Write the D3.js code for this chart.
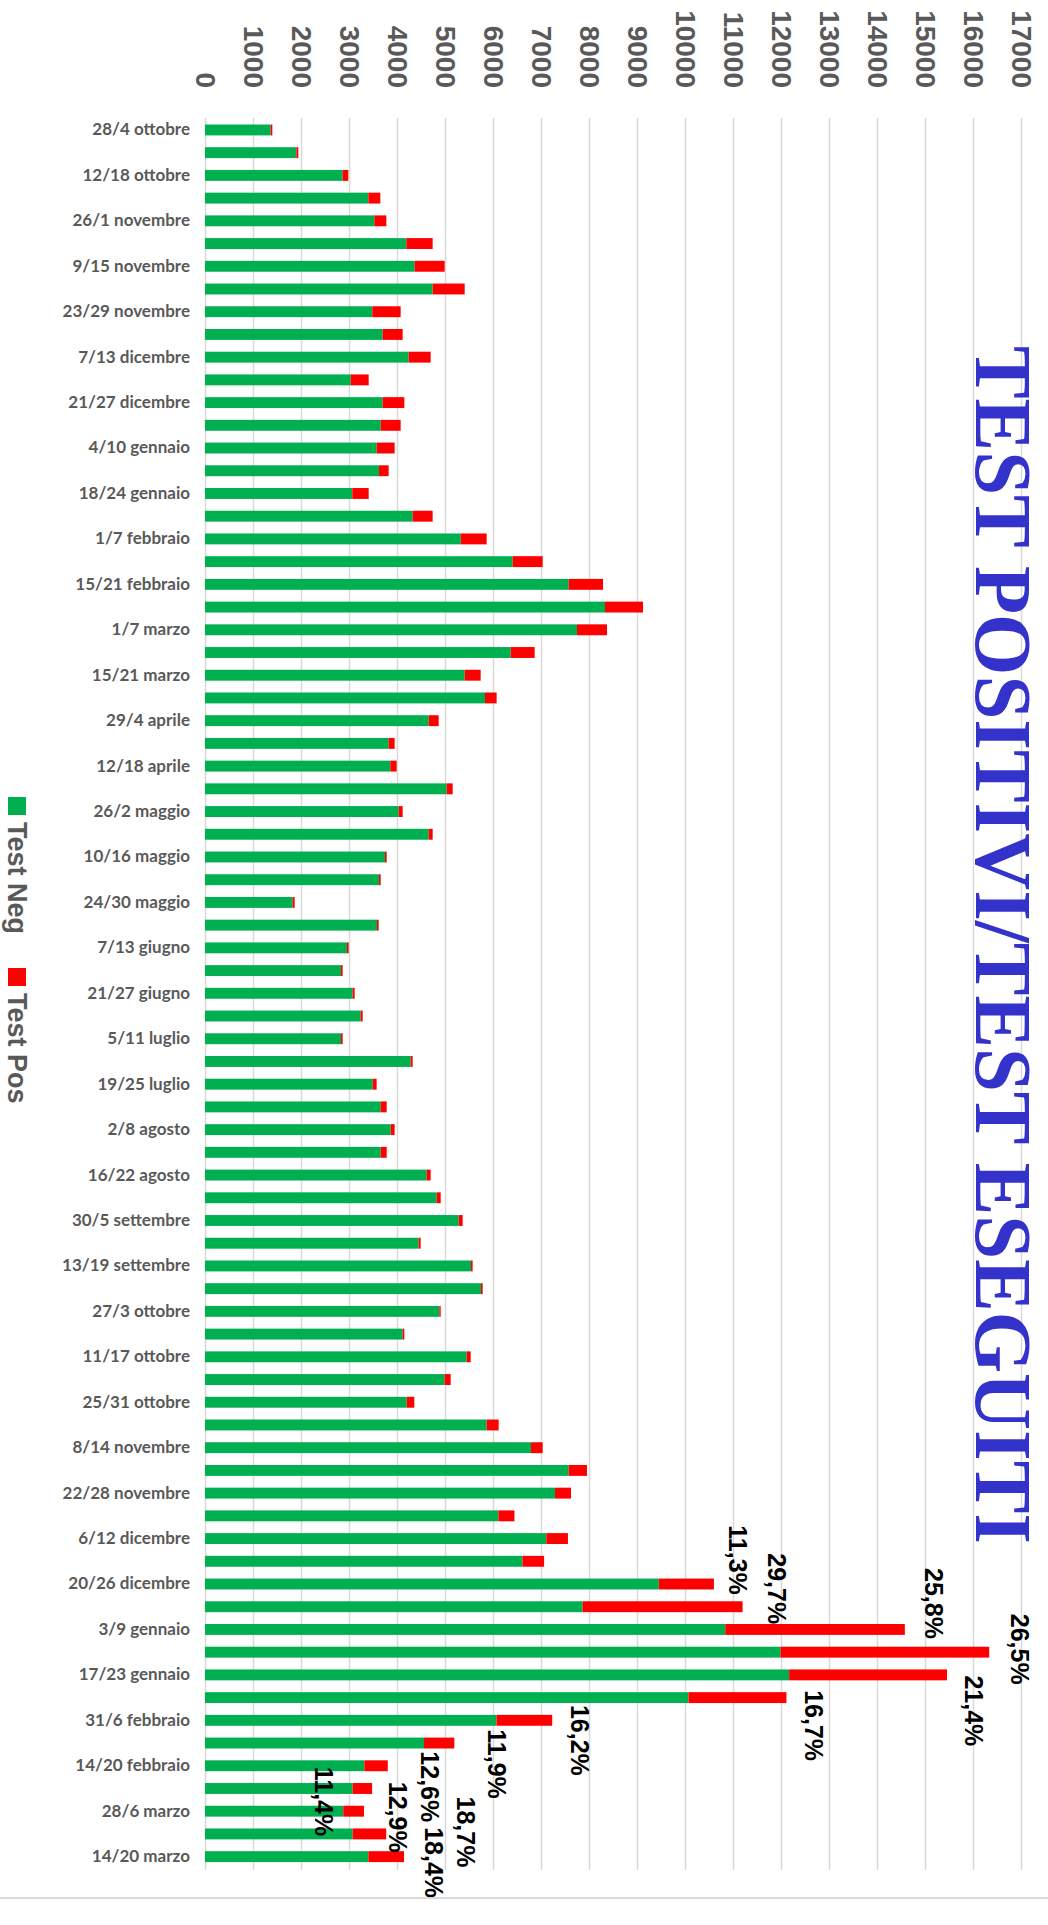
<!DOCTYPE html>
<html>
<head>
<meta charset="utf-8">
<script src="https://cdn.jsdelivr.net/npm/d3@7"></script>
<style>
  body { margin: 0; background: #fff; }
</style>
</head>
<body>
<div id="vis"></div>
<script>
// weekly tests, from 28 Sept 2020 to 20 March 2022
const weeks = [
  "28/4 ottobre","5/11 ottobre","12/18 ottobre","19/25 ottobre","26/1 novembre","2/8 novembre","9/15 novembre","16/22 novembre","23/29 novembre","30/6 dicembre",
  "7/13 dicembre","14/20 dicembre","21/27 dicembre","28/3 gennaio","4/10 gennaio","11/17 gennaio","18/24 gennaio","25/31 gennaio","1/7 febbraio","8/14 febbraio",
  "15/21 febbraio","22/28 febbraio","1/7 marzo","8/14 marzo","15/21 marzo","22/28 marzo","29/4 aprile","5/11 aprile","12/18 aprile","19/25 aprile",
  "26/2 maggio","3/9 maggio","10/16 maggio","17/23 maggio","24/30 maggio","31/6 giugno","7/13 giugno","14/20 giugno","21/27 giugno","28/4 luglio",
  "5/11 luglio","12/18 luglio","19/25 luglio","26/1 agosto","2/8 agosto","9/15 agosto","16/22 agosto","23/29 agosto","30/5 settembre","6/12 settembre",
  "13/19 settembre","20/26 settembre","27/3 ottobre","4/10 ottobre","11/17 ottobre","18/24 ottobre","25/31 ottobre","1/7 novembre","8/14 novembre","15/21 novembre",
  "22/28 novembre","29/5 dicembre","6/12 dicembre","13/19 dicembre","20/26 dicembre","27/2 gennaio","3/9 gennaio","10/16 gennaio","17/23 gennaio","24/30 gennaio",
  "31/6 febbraio","7/13 febbraio","14/20 febbraio","21/27 febbraio","28/6 marzo","7/13 marzo","14/20 marzo"
];

const testNeg = [
  1368,1903,2868,3403,3528,4194,4368,4743,3486,3701,
  4243,3035,3701,3660,3576,3625,3069,4326,5326,6410,
  7576,8333,7750,6368,5410,5833,4660,3826,3861,5035,
  4035,4660,3750,3625,1826,3583,2958,2833,3076,3243,
  2833,4285,3493,3660,3868,3660,4618,4826,5285,4451,
  5542,5750,4882,4118,5451,4993,4201,5868,6792,7576,
  7292,6112,7110,6614,9453,7865,10839,11989,12169,10073,
  6073,4563,3320,3076,2880,3076,3403
];

const testPos = [
  35,41,118,250,250,549,625,667,590,417,
  458,375,452,416,375,201,341,417,542,625,
  716,792,625,500,333,243,208,125,132,125,
  83,83,35,35,42,35,35,35,42,42,
  35,41,83,125,83,125,83,84,83,42,
  34,35,28,35,84,125,160,250,243,382,
  333,335,451,451,1150,3335,3741,4349,3290,2040,
  1161,631,488,406,433,699,743
];

// percentage labels shown on the last weeks
const pctWeek  = [64, 65, 66, 67, 68, 69, 70, 71, 72, 73, 74, 75, 76];
const pctText  = ["11,3%","29,7%","25,8%","26,5%","21,4%","16,7%","16,2%","11,9%","12,6%","11,4%","12,9%","18,7%","18,4%"];

const xTicks = d3.range(0, 17001, 1000);
const seriesNames = ["Test Neg", "Test Pos"];

// label nudges in px (from the bar end / bar centre)
const pctNudge = [[24,-24],[34,-18],[29,-26],[31,-3],[27,36],[27,28],[28,20],[42,21],[42,21],[-48,13],[34,6],[80,-2],[30,6]];

const W = 1048, H = 1925;
const green = '#00b050', red = '#ff0000', grey = '#595959';

let svg = d3.select('#vis')
  .append('svg')
    .attr('width', W)
    .attr('height', H)
    .style('background-color', '#fff');

let xScale = d3.scaleLinear()
  .domain([0, 17000])
  .range([205, 1021]);

let yScale = d3.scaleBand()
  .domain(d3.range(weeks.length))
  .range([118.6, 1868])
  .paddingInner(0.52)
  .paddingOuter(0.26);

// value axis with gridlines, labels rotated
let xAxis = svg.append('g')
  .attr('transform', 'translate(0,118)')
  .call(d3.axisTop(xScale).tickValues(xTicks).tickSize(-1752).tickFormat(d3.format('d')));

xAxis.select('.domain').remove();
xAxis.selectAll('line')
  .attr('stroke', '#d9d9d9')
  .attr('stroke-width', 1.5);
xAxis.selectAll('text')
  .attr('x', 0)
  .attr('y', 0)
  .attr('dy', '0.35em')
  .attr('text-anchor', 'end')
  .attr('transform', 'translate(0,-30) rotate(90)')
  .style('font-family', '"Liberation Sans", Arial, sans-serif')
  .style('font-weight', 'bold')
  .style('font-size', '28px')
  .attr('fill', grey);

// category axis
let yAxis = svg.append('g')
  .attr('transform', 'translate(205,0)')
  .call(d3.axisLeft(yScale).tickSize(0).tickPadding(15)
    .tickFormat(i => i % 2 === 0 ? weeks[i] : ''));

yAxis.select('.domain').remove();
yAxis.selectAll('text')
  .style('font-family', 'Lato, "Open Sans", sans-serif')
  .style('font-weight', 'bold')
  .style('font-size', '17px')
  .attr('fill', grey);

// stacked bars
let rows = weeks.map((w, i) => ({ i: i, neg: testNeg[i], pos: testPos[i] }));

let bars = svg.append('g');
bars.selectAll('rect.neg')
  .data(rows)
  .enter().append('rect')
    .attr('class', 'neg')
    .attr('x', xScale(0))
    .attr('y', d => yScale(d.i))
    .attr('width', d => xScale(d.neg) - xScale(0))
    .attr('height', yScale.bandwidth())
    .attr('fill', green);

bars.selectAll('rect.pos')
  .data(rows)
  .enter().append('rect')
    .attr('class', 'pos')
    .attr('x', d => xScale(d.neg))
    .attr('y', d => yScale(d.i))
    .attr('width', d => xScale(d.neg + d.pos) - xScale(d.neg))
    .attr('height', yScale.bandwidth())
    .attr('fill', red);

// percentage labels
svg.append('g')
  .selectAll('text')
  .data(pctWeek)
  .enter().append('text')
    .attr('transform', (w, k) => {
      let cx = xScale(testNeg[w] + testPos[w]) + pctNudge[k][0];
      let cy = yScale(w) + yScale.bandwidth() / 2 + pctNudge[k][1];
      return 'translate(' + cx + ',' + cy + ') rotate(90)';
    })
    .attr('dy', '0.35em')
    .attr('text-anchor', 'middle')
    .style('font-family', '"Liberation Sans", Arial, sans-serif')
    .style('font-weight', 'bold')
    .style('font-size', '25px')
    .attr('fill', '#000')
    .text((w, k) => pctText[k]);

// title
svg.append('text')
  .attr('transform', 'translate(976,346) rotate(90)')
  .attr('text-anchor', 'start')
  .attr('textLength', 1198)
  .attr('lengthAdjust', 'spacingAndGlyphs')
  .style('font-family', '"Liberation Serif", "DejaVu Serif", serif')
  .style('font-weight', 'bold')
  .style('font-size', '80px')
  .attr('fill', '#3333cc')
  .text('TEST POSITIVI/TEST ESEGUITI');

// legend
let legend = svg.append('g');
let legendY = [797, 968];
let legendColor = [green, red];
seriesNames.forEach((name, k) => {
  legend.append('rect')
    .attr('x', 8)
    .attr('y', legendY[k])
    .attr('width', 18)
    .attr('height', 18)
    .attr('fill', legendColor[k]);
  legend.append('text')
    .attr('transform', 'translate(8,' + (legendY[k] + 25) + ') rotate(90)')
    .attr('text-anchor', 'start')
    .style('font-family', '"Liberation Sans", Arial, sans-serif')
    .style('font-weight', 'bold')
    .style('font-size', '27px')
    .attr('fill', grey)
    .text(name);
});

// chart border at the bottom
svg.append('line')
  .attr('x1', 0).attr('x2', W)
  .attr('y1', 1898).attr('y2', 1898)
  .attr('stroke', '#d9d9d9')
  .attr('stroke-width', 2);
</script>
</body>
</html>
